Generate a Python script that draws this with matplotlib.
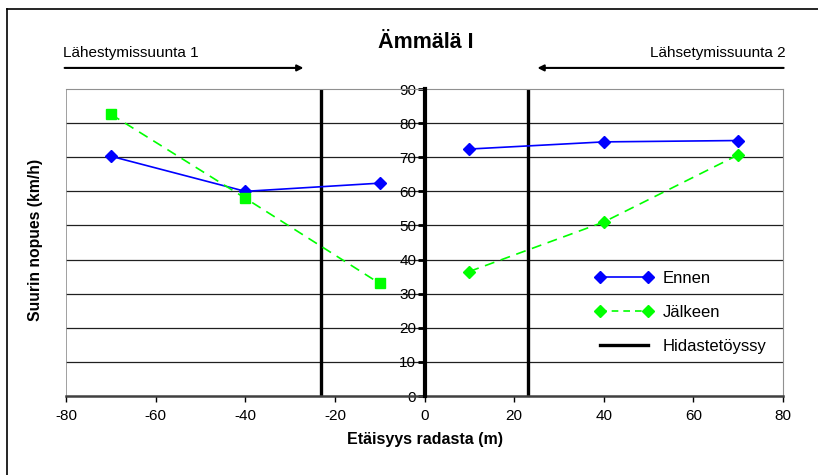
import matplotlib.pyplot as plt
from matplotlib.lines import Line2D

plt.rcParams['font.family'] = ['Liberation Sans', 'DejaVu Sans']
plt.rcParams['axes.unicode_minus'] = False

# Mittauspisteet (etäisyys radasta, m) ja suurin nopeus (km/h)
x_left = [-70, -40, -10]
x_right = [10, 40, 70]
ennen_left = [70.3, 60.0, 62.4]
ennen_right = [72.4, 74.5, 74.9]
jalkeen_left = [82.6, 58.0, 33.0]
jalkeen_right = [36.5, 51.0, 70.7]
hidaste_x = [-23, 23]

x_ticks = [-80, -60, -40, -20, 0, 20, 40, 60, 80]
y_ticks = [0, 10, 20, 30, 40, 50, 60, 70, 80, 90]

BLUE = '#0000FF'
GREEN = '#00FF00'

fig = plt.figure(figsize=(8.18, 4.75), dpi=100)
ax = fig.add_axes([0.0807, 0.1663, 0.8765, 0.6463])

# chart frame (only top and left edge fall inside the image)
fig.add_artist(Line2D([0.0085, 0.0085], [0, 0.981], color='black', lw=1.2))
fig.add_artist(Line2D([0.0085, 1.0], [0.981, 0.981], color='black', lw=1.2))

ax.set_xlim(-80, 80)
ax.set_ylim(0, 90)

for y in y_ticks[1:-1]:
    ax.axhline(y, color='#202020', lw=0.9, zorder=0)
ax.axvline(-80, color='#909090', lw=1.2, zorder=0)

for xv in hidaste_x:
    ax.axvline(xv, color='black', lw=2.4, zorder=1)

# Ennen: sininen yhtenäinen viiva
ax.plot(x_left, ennen_left, color=BLUE, lw=1.2, marker='D', ms=6.5, zorder=3)
ax.plot(x_right, ennen_right, color=BLUE, lw=1.2, marker='D', ms=6.5, zorder=3)
# Jälkeen: vihreä katkoviiva
ax.plot(x_left, jalkeen_left, color=GREEN, lw=1.2, ls=(0, (6, 4)),
        marker='s', ms=6.5, zorder=3)
ax.plot(x_right, jalkeen_right, color=GREEN, lw=1.2, ls=(0, (6, 4)),
        marker='D', ms=6.5, zorder=3)

# y-akseli keskellä kohdassa x = 0
ax.spines['left'].set_position(('data', 0))
ax.spines['left'].set_linewidth(3)
ax.spines['left'].set_color('black')
ax.spines['left'].set_zorder(4)
ax.spines['top'].set_color('#909090')
ax.spines['right'].set_color('#909090')
ax.spines['bottom'].set_color('#404040')
ax.spines['bottom'].set_linewidth(1.8)

ax.set_xticks(x_ticks)
ax.set_yticks(y_ticks)
ax.tick_params(axis='y', direction='out', length=5, width=2, color='black',
               labelsize=11, pad=1)
ax.tick_params(axis='x', direction='out', length=4, width=1, color='black',
               labelsize=11, pad=5)

ax.set_xlabel('Etäisyys radasta (m)', fontsize=11.5, fontweight='bold',
              labelpad=7)
fig.text(0.043, 0.1663 + 0.6463 / 2 + 0.005, 'Suurin nopues (km/h)',
         rotation=90, ha='center', va='center', fontsize=11.3,
         fontweight='bold')

fig.text(0.52, 0.91, 'Ämmälä I', ha='center', va='center',
         fontsize=15.5, fontweight='bold')

# ajosuunnat
fig.text(0.077, 0.889, 'Lähestymissuunta 1', ha='left', va='center', fontsize=11)
fig.text(0.960, 0.889, 'Lähsetymissuunta 2', ha='right', va='center', fontsize=11)
ax.annotate('', xy=(0.371, 0.857), xytext=(0.079, 0.857),
            xycoords='figure fraction',
            arrowprops=dict(arrowstyle='-|>', color='black', lw=1.5,
                            mutation_scale=9, shrinkA=0, shrinkB=0))
ax.annotate('', xy=(0.657, 0.857), xytext=(0.958, 0.857),
            xycoords='figure fraction',
            arrowprops=dict(arrowstyle='-|>', color='black', lw=1.5,
                            mutation_scale=9, shrinkA=0, shrinkB=0))

handles = [
    Line2D([], [], color=BLUE, lw=1.2, marker='D', ms=6.5),
    Line2D([], [], color=GREEN, lw=1.2, ls=(0, (4, 3)), marker='D', ms=6.5),
    Line2D([], [], color='black', lw=2.4),
]
ax.legend(handles, ['Ennen', 'Jälkeen', 'Hidastetöyssy'],
          loc='upper left', bbox_to_anchor=(0.717, 0.455), frameon=False,
          fontsize=12, numpoints=2, handlelength=3.45, labelspacing=1.12,
          handletextpad=0.6)

fig.savefig('out.png', dpi=100)
